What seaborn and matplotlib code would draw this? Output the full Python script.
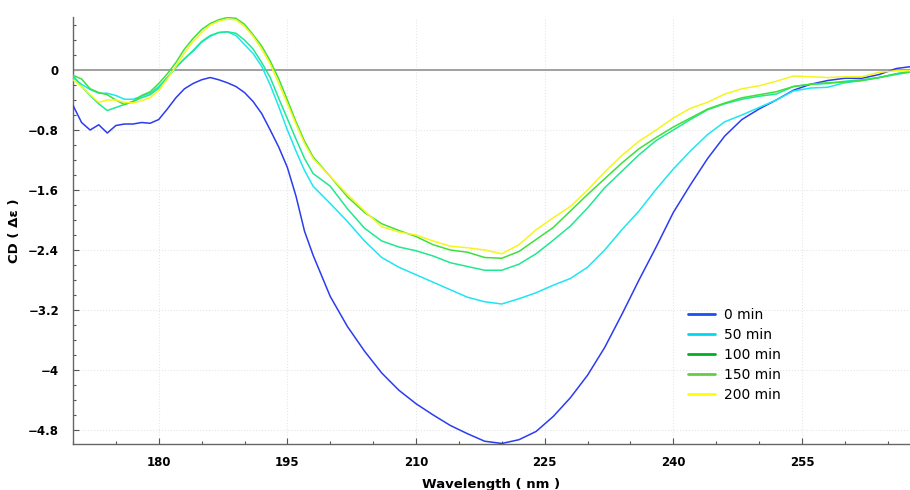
import matplotlib
matplotlib.use("Agg")
import matplotlib.pyplot as plt
from matplotlib.ticker import MultipleLocator, FuncFormatter
import pandas as pd
import seaborn as sns

# wavelength grid (nm): 1 nm steps up to 198, then 2 nm steps
wavelength = list(range(170, 199)) + list(range(200, 269, 2))

cd_0min = [
    -0.47, -0.70, -0.80, -0.73, -0.84, -0.74, -0.72, -0.72, -0.70, -0.71,
    -0.66, -0.52, -0.37, -0.25, -0.18, -0.13, -0.10, -0.13, -0.17, -0.22,
    -0.30, -0.42, -0.58, -0.80, -1.03, -1.30, -1.68, -2.15, -2.47,
    -3.02, -3.42, -3.75, -4.04, -4.27, -4.45, -4.60, -4.74, -4.85, -4.95,
    -4.98, -4.93, -4.82, -4.62, -4.37, -4.07, -3.70, -3.26, -2.80, -2.36,
    -1.90, -1.53, -1.18, -0.88, -0.66, -0.52, -0.40, -0.27, -0.19, -0.14,
    -0.11, -0.11, -0.06, 0.02, 0.05,
]
cd_50min = [
    -0.10, -0.19, -0.26, -0.31, -0.31, -0.34, -0.39, -0.39, -0.35, -0.31,
    -0.22, -0.10, 0.03, 0.15, 0.25, 0.37, 0.45, 0.50, 0.51, 0.46,
    0.34, 0.22, 0.05, -0.20, -0.49, -0.80, -1.08, -1.34, -1.55,
    -1.78, -2.02, -2.28, -2.50, -2.63, -2.73, -2.83, -2.93, -3.03, -3.09,
    -3.12, -3.05, -2.97, -2.87, -2.78, -2.63, -2.40, -2.13, -1.88, -1.59,
    -1.32, -1.08, -0.86, -0.69, -0.60, -0.50, -0.40, -0.28, -0.24, -0.23,
    -0.17, -0.14, -0.10, -0.06, -0.02,
]
cd_100min = [
    -0.07, -0.22, -0.34, -0.45, -0.54, -0.50, -0.46, -0.42, -0.37, -0.33,
    -0.24, -0.10, 0.04, 0.15, 0.26, 0.38, 0.46, 0.50, 0.51, 0.49,
    0.40, 0.28, 0.10, -0.10, -0.38, -0.65, -0.92, -1.18, -1.38,
    -1.55, -1.85, -2.11, -2.28, -2.36, -2.41, -2.48, -2.57, -2.62, -2.67,
    -2.67, -2.59, -2.45, -2.27, -2.08, -1.84, -1.57, -1.35, -1.13, -0.94,
    -0.80, -0.66, -0.53, -0.45, -0.39, -0.35, -0.32, -0.22, -0.19, -0.18,
    -0.15, -0.13, -0.10, -0.05, -0.02,
]
cd_150min = [
    -0.07, -0.12, -0.25, -0.30, -0.33, -0.40, -0.46, -0.42, -0.34, -0.29,
    -0.18, -0.05, 0.10, 0.28, 0.42, 0.54, 0.62, 0.67, 0.70, 0.69,
    0.61, 0.47, 0.32, 0.12, -0.12, -0.40, -0.69, -0.95, -1.16,
    -1.42, -1.69, -1.90, -2.05, -2.14, -2.22, -2.33, -2.40, -2.43, -2.50,
    -2.51, -2.42, -2.26, -2.10, -1.88, -1.66, -1.45, -1.24, -1.05, -0.90,
    -0.76, -0.64, -0.52, -0.44, -0.37, -0.33, -0.29, -0.22, -0.19, -0.17,
    -0.16, -0.14, -0.10, -0.05, -0.01,
]
cd_200min = [
    -0.13, -0.22, -0.33, -0.43, -0.40, -0.40, -0.43, -0.44, -0.41, -0.37,
    -0.27, -0.12, 0.05, 0.23, 0.38, 0.50, 0.60, 0.65, 0.68, 0.67,
    0.58, 0.45, 0.28, 0.08, -0.18, -0.45, -0.72, -0.98, -1.18,
    -1.42, -1.66, -1.88, -2.09, -2.16, -2.20, -2.28, -2.35, -2.37, -2.40,
    -2.45, -2.33, -2.13, -1.97, -1.82, -1.60, -1.36, -1.14, -0.95, -0.80,
    -0.64, -0.51, -0.43, -0.32, -0.25, -0.21, -0.15, -0.08, -0.09, -0.10,
    -0.09, -0.09, -0.03, -0.01, -0.01,
]

labels = ["0 min", "50 min", "100 min", "150 min", "200 min"]
line_colors = ["#2b3cf0", "#1ee6f0", "#20e890", "#3ee03a", "#f5f51e"]
legend_colors = ["#1a50f0", "#00d8f0", "#00b020", "#66cc44", "#ffff00"]

series = [cd_0min, cd_50min, cd_100min, cd_150min, cd_200min]
df = pd.concat(
    [pd.DataFrame({"wavelength": wavelength, "cd": vals, "time": lab})
     for vals, lab in zip(series, labels)],
    ignore_index=True,
)

sns.set_theme(style="white")
plt.rcParams["font.family"] = ["DejaVu Sans"]
plt.rcParams["text.color"] = "black"

fig = plt.figure(figsize=(9.1, 4.9), dpi=100)
ax = fig.add_axes([0.0802, 0.0939, 0.9198, 0.8714])

ax.axhline(0, color="#a0a0a0", linewidth=1.4, zorder=1)
sns.lineplot(data=df, x="wavelength", y="cd", hue="time", hue_order=labels,
             palette=dict(zip(labels, line_colors)), linewidth=1.1,
             estimator=None, sort=False, ax=ax, zorder=3)

ax.set_xlim(170, 267.6)
ax.set_ylim(-4.987, 0.707)
ax.xaxis.set_major_locator(MultipleLocator(15))
ax.xaxis.set_minor_locator(MultipleLocator(5))
ax.yaxis.set_major_locator(MultipleLocator(0.8))
ax.yaxis.set_minor_locator(MultipleLocator(0.2))


def _fmt(v, pos):
    if abs(v) < 1e-9:
        return "0"
    s = f"{abs(v):.1f}".rstrip("0").rstrip(".")
    return ("\u2212" + s) if v < 0 else s


ax.yaxis.set_major_formatter(FuncFormatter(_fmt))
ax.tick_params(axis="both", which="both", bottom=True, left=True,
               top=False, right=False)
ax.tick_params(axis="both", which="major", direction="in", length=4,
               width=0.8, color="#555555", labelsize=8.5, pad=10,
               labelcolor="black")
ax.tick_params(axis="both", which="minor", direction="in", length=2.5,
               width=0.8, color="#555555")
ax.tick_params(axis="x", which="major", pad=9)
for lab in ax.get_xticklabels() + ax.get_yticklabels():
    lab.set_fontweight("bold")

ax.grid(True, which="major", color="#e6e6e6", linestyle=":", linewidth=0.8)
ax.set_axisbelow(True)

for side in ["top", "right"]:
    ax.spines[side].set_visible(False)
for side in ["left", "bottom"]:
    ax.spines[side].set_color("#666666")
    ax.spines[side].set_linewidth(1.0)

ax.set_xlabel("Wavelength ( nm )", fontsize=9.5, fontweight="bold",
              labelpad=6, color="black")
ax.set_ylabel("CD ( \u0394\u03b5 )", fontsize=9.5, fontweight="bold",
              labelpad=5, color="black")

leg = ax.legend(loc="upper left", bbox_to_anchor=(0.735, 0.318), frameon=False,
                fontsize=10, handlelength=1.9, handletextpad=0.7,
                labelspacing=0.42, borderpad=0, borderaxespad=0)
for h, c in zip(leg.get_lines(), legend_colors):
    h.set_color(c)
    h.set_linewidth(2.0)
for t in leg.get_texts():
    t.set_color("black")

fig.savefig("out.png", dpi=100)
